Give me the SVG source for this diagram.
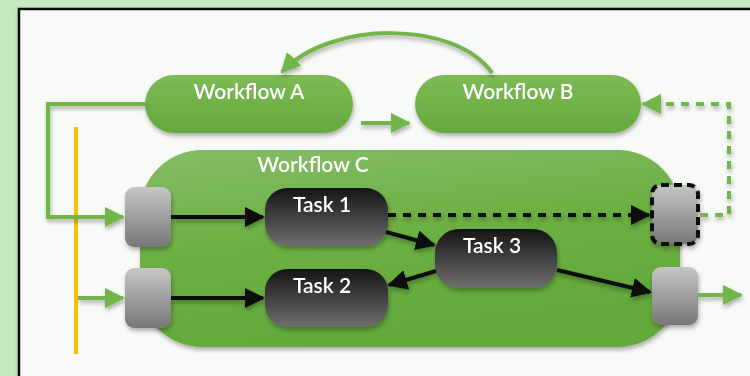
<svg xmlns="http://www.w3.org/2000/svg" width="750" height="376" viewBox="0 0 750 376">
<defs>
<linearGradient id="gWf" x1="0" y1="0" x2="0" y2="1"><stop offset="0" stop-color="#7dbb55"/><stop offset="1" stop-color="#65a83c"/></linearGradient>
<linearGradient id="gC" x1="0" y1="0" x2="0.3" y2="1"><stop offset="0" stop-color="#85bc66"/><stop offset="0.5" stop-color="#6cb043"/><stop offset="1" stop-color="#62a83a"/></linearGradient>
<linearGradient id="gTask" x1="0" y1="0" x2="0" y2="1"><stop offset="0" stop-color="#151515"/><stop offset="1" stop-color="#6e6e6e"/></linearGradient>
<linearGradient id="gBox" x1="0" y1="0" x2="0" y2="1"><stop offset="0" stop-color="#c6c6c6"/><stop offset="1" stop-color="#777777"/></linearGradient>
<filter id="sh" x="-20%" y="-20%" width="140%" height="150%"><feDropShadow dx="1" dy="3" stdDeviation="2" flood-color="#000" flood-opacity="0.3"/></filter>
<marker id="aG" viewBox="0 0 10 10" refX="9" refY="5" markerWidth="5" markerHeight="5" orient="auto" markerUnits="strokeWidth"><path d="M0,0 L10,5 L0,10 z" fill="#72b54a"/></marker>
<marker id="aK" viewBox="0 0 10 10" refX="9" refY="5" markerWidth="5" markerHeight="5" orient="auto" markerUnits="strokeWidth"><path d="M0,0 L10,5 L0,10 z" fill="#111"/></marker>
<style>
.lbl{font-family:Lato,"Open Sans","Liberation Sans",sans-serif;fill:#fff;text-anchor:middle;font-size:21px;font-weight:600}
.g{stroke:#72b54a;stroke-width:4;fill:none}
.k{stroke:#111;stroke-width:4;fill:none}
</style>
</defs>
<rect x="0" y="0" width="750" height="376" fill="#c4e8bf"/>
<rect x="19" y="9" width="760" height="400" fill="#f8faf7" stroke="#111" stroke-width="2.5" filter="url(#sh)"/>

<g id="workflowC" filter="url(#sh)">
<rect x="140" y="150" width="540" height="197" rx="62" fill="url(#gC)"/>
<text class="lbl" x="313" y="172">Workflow C</text>
</g>
<g id="workflowA" filter="url(#sh)">
<rect x="145" y="75" width="208" height="58" rx="29" fill="url(#gWf)"/>
<text class="lbl" x="249" y="99">Workflow A</text>
</g>
<g id="workflowB" filter="url(#sh)">
<rect x="415" y="75" width="226" height="58" rx="29" fill="url(#gWf)"/>
<text class="lbl" x="518" y="99">Workflow B</text>
</g>
<g id="task1" filter="url(#sh)">
<rect x="265" y="188" width="123" height="58" rx="22" fill="url(#gTask)"/>
<text class="lbl" x="322" y="212">Task 1</text>
</g>
<g id="task2" filter="url(#sh)">
<rect x="265" y="269" width="123" height="58" rx="22" fill="url(#gTask)"/>
<text class="lbl" x="322" y="293">Task 2</text>
</g>
<g id="task3" filter="url(#sh)">
<rect x="435" y="229" width="122" height="59" rx="24" fill="url(#gTask)"/>
<text class="lbl" x="492" y="253">Task 3</text>
</g>
<g id="inTop" filter="url(#sh)"><rect x="125" y="187" width="46" height="60" rx="9" fill="url(#gBox)"/></g>
<g id="inBottom" filter="url(#sh)"><rect x="125" y="268" width="46" height="60" rx="9" fill="url(#gBox)"/></g>
<g id="outDashed" filter="url(#sh)"><rect x="652" y="185" width="46" height="59" rx="9" fill="url(#gBox)" stroke="#111" stroke-width="4" stroke-dasharray="8,5"/></g>
<g id="outBottom" filter="url(#sh)"><rect x="652" y="267" width="46" height="58" rx="9" fill="url(#gBox)"/></g>

<g id="connectors">
<line x1="76" y1="127" x2="76" y2="354" stroke="#fbbf0a" stroke-width="4"/>
<g filter="url(#sh)">
<path class="g" d="M492,73 C455,20 330,20 282,72" marker-end="url(#aG)"/>
<polyline class="g" points="145,104 48,104 48,217 123,217" marker-end="url(#aG)"/>
<line class="g" x1="78" y1="298" x2="123" y2="298" marker-end="url(#aG)"/>
<line class="g" x1="361" y1="123" x2="409" y2="123" marker-end="url(#aG)"/>
<polyline class="g" points="700,215 729,215 729,104 643,104" stroke-dasharray="8,7" marker-end="url(#aG)"/>
<line class="g" x1="698" y1="295" x2="741" y2="295" marker-end="url(#aG)"/>
<line class="k" x1="171" y1="217" x2="263" y2="217" marker-end="url(#aK)"/>
<line class="k" x1="171" y1="298" x2="263" y2="298" marker-end="url(#aK)"/>
<line class="k" x1="388" y1="215" x2="649" y2="215" stroke-dasharray="8,7" marker-end="url(#aK)"/>
<line class="k" x1="386" y1="232" x2="434" y2="245" marker-end="url(#aK)"/>
<line class="k" x1="436" y1="271" x2="389" y2="285" marker-end="url(#aK)"/>
<line class="k" x1="557" y1="270" x2="650" y2="292" marker-end="url(#aK)"/>
</g>
</g>
</svg>
